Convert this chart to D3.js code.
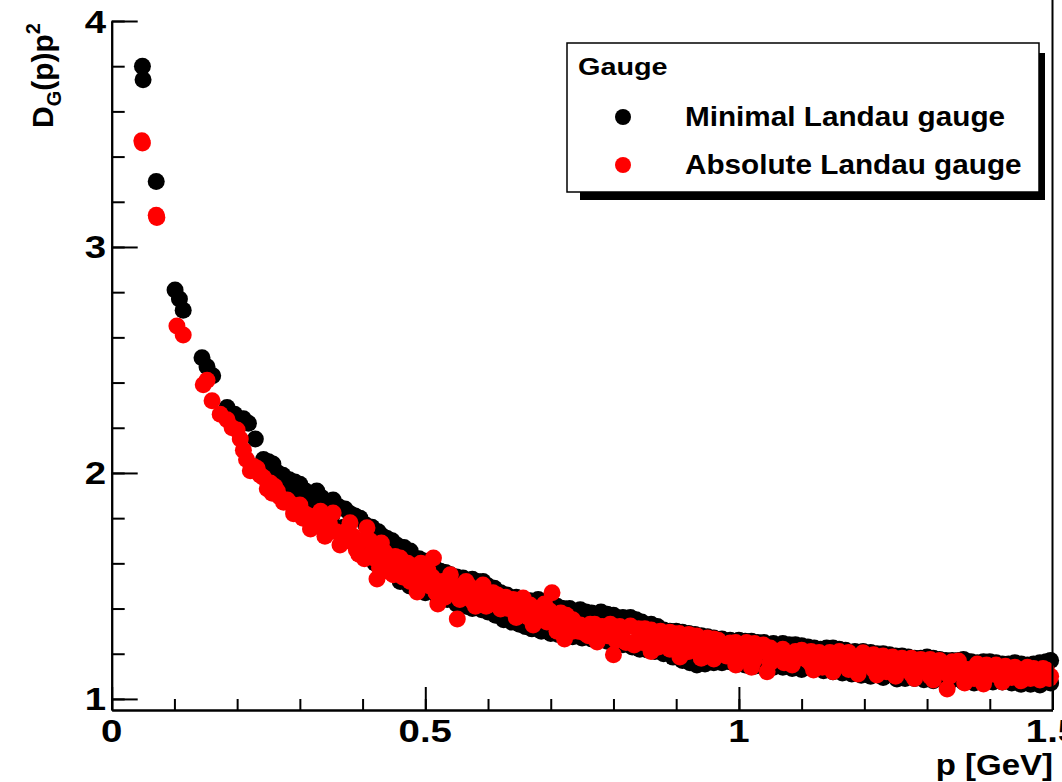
<!DOCTYPE html>
<html>
<head>
<meta charset="utf-8">
<script src="https://cdn.jsdelivr.net/npm/d3@7"></script>
<style>
  body { margin: 0; background: #fff; }
  text { font-family: "Liberation Sans", Arial, sans-serif; font-weight: bold; fill: #000; }
</style>
</head>
<body>
<script>
// gluon dressing function D(p)p^2 as [p in GeV, value]
var minimalLandau = [
  [0.049,3.80],[0.050,3.74],[0.071,3.29],
  [0.101,2.81],[0.108,2.77],[0.114,2.72],
  [0.144,2.51],[0.152,2.47],[0.161,2.43],
  [0.184,2.29],[0.196,2.26],[0.210,2.24],[0.218,2.22],[0.229,2.15],
  [0.242,2.06],[0.250,2.05],[0.257,2.04],[0.265,2.00],[0.273,1.99],[0.283,1.97],[0.292,1.96],[0.300,1.95],
  [0.309,1.92],[0.317,1.90],[0.327,1.92],[0.335,1.89],[0.345,1.87],[0.353,1.88],[0.362,1.85],[0.372,1.84],
  [0.380,1.82],[0.388,1.81],[0.396,1.80],[0.405,1.77],[0.415,1.76],[0.425,1.74],[0.432,1.72],[0.439,1.71],
  [0.447,1.70],[0.455,1.68],[0.466,1.67],[0.476,1.655],[0.490,1.62],[0.498,1.61],[0.505,1.60],[0.515,1.58],
  [0.524,1.565],[0.532,1.56],[0.540,1.55],[0.550,1.54],[0.560,1.535],[0.575,1.53],[0.583,1.52],[0.592,1.52],
  [0.600,1.50],[0.610,1.49],[0.620,1.47],[0.630,1.46],[0.645,1.45],[0.655,1.44],[0.667,1.435],[0.680,1.44],
  [0.694,1.435],[0.702,1.42],[0.710,1.41],[0.720,1.40],[0.730,1.40],[0.747,1.395],[0.756,1.385],[0.765,1.38],
  [0.780,1.385],[0.790,1.375],[0.800,1.37],[0.815,1.36],[0.827,1.36],[0.836,1.35],[0.845,1.34],[0.860,1.33],
  [0.870,1.32],[0.880,1.305],[0.890,1.30],[0.900,1.30],[0.910,1.295],[0.920,1.29],[0.930,1.285],[0.940,1.28],
  [0.950,1.275],[0.960,1.27],[0.973,1.265],[0.986,1.26],[1.000,1.26],[1.010,1.255],[1.020,1.255],[1.030,1.25],
  [1.040,1.25],[1.055,1.245],[1.070,1.245],[1.080,1.24],[1.090,1.24],[1.100,1.235],[1.110,1.23],[1.120,1.225],
  [1.130,1.22],[1.140,1.225],[1.150,1.225],[1.160,1.22],[1.170,1.215],[1.185,1.21],[1.198,1.21],[1.210,1.205],
  [1.220,1.20],[1.230,1.20],[1.240,1.195],[1.250,1.19],[1.260,1.19],[1.270,1.185],[1.280,1.18],[1.290,1.18],
  [1.300,1.185],[1.310,1.18],[1.320,1.175],[1.330,1.17],[1.340,1.17],[1.350,1.17],[1.358,1.175],[1.370,1.165],
  [1.380,1.16],[1.390,1.165],[1.400,1.165],[1.410,1.16],[1.420,1.155],[1.430,1.155],[1.440,1.16],[1.450,1.155],
  [1.460,1.15],[1.470,1.155],[1.480,1.16],[1.490,1.165],[1.497,1.17],
  [0.250,2.00],[0.270,1.95],[0.290,1.91],[0.310,1.87],[0.330,1.84],[0.350,1.80],[0.370,1.76],[0.385,1.71],
  [0.400,1.69],[0.420,1.60],[0.440,1.57],[0.460,1.52],[0.475,1.50],[0.487,1.487],[0.500,1.47],[0.520,1.45],
  [0.535,1.44],[0.550,1.42],[0.565,1.41],[0.575,1.40],[0.590,1.395],[0.600,1.385],[0.612,1.37],[0.625,1.35],
  [0.638,1.34],[0.650,1.33],[0.660,1.32],[0.670,1.31],[0.685,1.30],[0.700,1.29],[0.712,1.285],[0.720,1.28],
  [0.735,1.275],[0.750,1.27],[0.765,1.265],[0.779,1.265],[0.790,1.255],[0.800,1.25],[0.815,1.24],[0.830,1.23],
  [0.842,1.22],[0.854,1.217],[0.866,1.21],[0.880,1.20],[0.895,1.185],[0.910,1.17],[0.922,1.16],[0.933,1.15],
  [0.946,1.155],[0.960,1.16],[0.973,1.16],[0.986,1.164],[1.000,1.155],[1.010,1.15],[1.025,1.145],[1.040,1.14],
  [1.055,1.14],[1.070,1.14],[1.085,1.135],[1.100,1.13],[1.119,1.133],[1.135,1.125],[1.150,1.12],[1.165,1.115],
  [1.180,1.11],[1.195,1.105],[1.210,1.10],[1.230,1.095],[1.252,1.088],[1.265,1.09],[1.280,1.09],[1.295,1.085],
  [1.310,1.08],[1.325,1.085],[1.340,1.085],[1.358,1.075],[1.375,1.07],[1.390,1.07],[1.405,1.075],[1.420,1.075],
  [1.435,1.07],[1.450,1.065],[1.465,1.065],[1.480,1.062],[1.497,1.07]
];

var absoluteLandau = [
  [0.048,3.47],[0.049,3.46],[0.071,3.14],[0.072,3.13],
  [0.104,2.65],[0.114,2.61],
  [0.146,2.39],[0.152,2.41],[0.160,2.32],[0.173,2.26],[0.184,2.235],[0.192,2.20],[0.200,2.19],[0.205,2.15],
  [0.210,2.10],[0.215,2.06],[0.221,2.01],[0.226,2.03],[0.232,2.02],[0.237,1.99],[0.242,1.98],[0.248,1.93],
  [0.253,1.956],[0.256,1.91],[0.260,1.94],[0.264,1.92],[0.268,1.894],[0.274,1.87],[0.280,1.88],[0.287,1.86],
  [0.290,1.82],[0.295,1.85],[0.300,1.858],[0.308,1.82],[0.317,1.752],[0.325,1.80],[0.333,1.83],[0.340,1.72],
  [0.347,1.78],[0.353,1.823],[0.364,1.681],[0.372,1.74],[0.380,1.78],[0.390,1.66],[0.398,1.70],[0.407,1.757],
  [0.415,1.65],[0.423,1.531],[0.430,1.69],[0.438,1.60],[0.445,1.56],[0.452,1.63],[0.460,1.624],[0.468,1.58],
  [0.476,1.52],[0.487,1.473],[0.493,1.60],[0.500,1.55],[0.507,1.50],[0.513,1.624],[0.520,1.42],[0.527,1.52],
  [0.535,1.47],[0.540,1.549],[0.551,1.354],[0.558,1.50],[0.565,1.52],[0.572,1.45],[0.580,1.41],[0.586,1.48],
  [0.592,1.504],[0.600,1.44],[0.608,1.47],[0.620,1.398],[0.628,1.45],[0.636,1.43],[0.645,1.36],[0.656,1.447],
  [0.662,1.38],[0.667,1.416],[0.672,1.327],[0.680,1.40],[0.690,1.36],[0.702,1.47],[0.710,1.30],[0.716,1.38],
  [0.722,1.265],[0.730,1.34],[0.740,1.33],[0.747,1.327],[0.755,1.29],[0.763,1.33],[0.774,1.252],[0.782,1.32],
  [0.790,1.28],[0.800,1.195],[0.808,1.30],[0.815,1.27],[0.827,1.323],[0.833,1.239],[0.842,1.28],[0.850,1.31],
  [0.860,1.21],[0.868,1.27],[0.875,1.30],[0.885,1.24],[0.895,1.29],[0.906,1.186],[0.915,1.25],[0.925,1.28],
  [0.933,1.279],[0.940,1.18],[0.948,1.23],[0.960,1.177],[0.967,1.26],[0.975,1.22],[0.986,1.248],[0.995,1.15],
  [1.003,1.21],[1.012,1.25],[1.020,1.14],[1.028,1.20],[1.039,1.239],[1.045,1.12],[1.055,1.185],[1.066,1.212],
  [1.072,1.16],[1.080,1.18],[1.090,1.21],[1.100,1.215],[1.110,1.17],[1.119,1.128],[1.128,1.205],[1.138,1.16],
  [1.150,1.12],[1.160,1.21],[1.170,1.15],[1.180,1.18],[1.190,1.11],[1.198,1.204],[1.210,1.155],[1.220,1.106],
  [1.230,1.19],[1.240,1.14],[1.250,1.10],[1.260,1.18],[1.270,1.13],[1.280,1.09],[1.290,1.175],[1.300,1.12],
  [1.310,1.084],[1.320,1.17],[1.332,1.044],[1.340,1.13],[1.350,1.168],[1.360,1.07],[1.370,1.12],[1.380,1.155],
  [1.390,1.066],[1.400,1.11],[1.410,1.15],[1.420,1.075],[1.430,1.12],[1.440,1.14],[1.450,1.08],[1.460,1.105],
  [1.470,1.135],[1.480,1.084],[1.490,1.128],[1.497,1.10],
  [0.305,1.80],[0.315,1.81],[0.322,1.77],[0.336,1.76],[0.345,1.75],[0.358,1.74],[0.368,1.71],[0.377,1.70],
  [0.385,1.72],[0.394,1.64],[0.403,1.62],[0.412,1.70],[0.420,1.62],[0.427,1.58],[0.435,1.65],[0.442,1.62],
  [0.449,1.55],[0.456,1.58],[0.464,1.54],[0.472,1.60],[0.480,1.56],[0.490,1.52],[0.497,1.51],[0.504,1.57],
  [0.511,1.54],[0.517,1.47],[0.524,1.49],[0.531,1.45],[0.538,1.51],[0.545,1.48],[0.555,1.44],[0.562,1.46],
  [0.569,1.48],[0.576,1.43],[0.583,1.44],[0.590,1.45],[0.597,1.41],[0.604,1.42],[0.612,1.43],[0.617,1.44],
  [0.624,1.42],[0.632,1.40],[0.640,1.41],[0.650,1.40],[0.658,1.42],[0.665,1.36],[0.676,1.37],[0.684,1.35],
  [0.694,1.34],[0.698,1.39],[0.706,1.35],[0.713,1.33],[0.727,1.31],[0.735,1.30],[0.744,1.30],[0.752,1.31],
  [0.760,1.28],[0.768,1.30],[0.777,1.29],[0.786,1.30],[0.795,1.31],[0.804,1.26],[0.812,1.29],[0.820,1.25],
  [0.838,1.26],[0.846,1.25],[0.855,1.27],[0.864,1.25],[0.872,1.23],[0.880,1.26],[0.890,1.22],[0.900,1.26],
  [0.910,1.22],[0.920,1.21],[0.930,1.24],[0.937,1.22],[0.944,1.26],[0.954,1.21],[0.963,1.20],[0.971,1.24],
  [0.980,1.19],[0.990,1.21],[0.999,1.23],[1.008,1.18],[1.016,1.20],[1.024,1.17],[1.033,1.21],[1.050,1.16],
  [1.060,1.19],[1.076,1.20],[1.085,1.15],[1.095,1.18],[1.105,1.19],[1.115,1.155],[1.124,1.18],[1.133,1.14],
  [1.144,1.19],[1.155,1.16],[1.165,1.18],[1.175,1.13],[1.185,1.16],[1.194,1.15],[1.204,1.18],[1.215,1.13],
  [1.225,1.16],[1.235,1.12],[1.245,1.165],[1.255,1.14],[1.265,1.15],[1.275,1.11],[1.285,1.14],[1.295,1.15],
  [1.305,1.10],[1.315,1.14],[1.326,1.12],[1.336,1.10],[1.345,1.15],[1.355,1.11],[1.365,1.13],[1.375,1.09],
  [1.385,1.13],[1.395,1.10],[1.405,1.125],[1.415,1.10],[1.425,1.13],[1.435,1.095],[1.445,1.11],[1.455,1.125],
  [1.465,1.09],[1.475,1.11],[1.485,1.12],[1.495,1.09],
  [0.570,1.50],[0.615,1.46],[0.640,1.44],[0.690,1.42],[0.725,1.37],[0.735,1.35],[0.770,1.33],[0.795,1.33],
  [0.810,1.32],[0.840,1.31],[0.860,1.305],[0.890,1.295],[0.905,1.29],[0.920,1.285],[0.950,1.27],[0.960,1.265],
  [0.995,1.25],[1.025,1.245],[1.050,1.225],[1.070,1.22],[1.115,1.21],[1.145,1.205],[1.175,1.205],[1.215,1.195],
  [1.245,1.185],[1.275,1.18],[1.305,1.175],[1.340,1.165],[1.395,1.15],[1.425,1.145],[1.460,1.14],[1.485,1.135]
];

var xTickLabels = ["0", "0.5", "1", "1.5"];
var xMajorTicks = [0, 0.5, 1, 1.5];
var yMajorTicks = [1, 2, 3, 4];
var legendTitle = "Gauge";
var seriesNames = ["Minimal Landau gauge", "Absolute Landau gauge"];
var seriesColors = ["#000000", "#ff0000"];

var w = 1062, h = 782;
var frame = { left: 111.7, right: 1052.5, top: 21, bottom: 710 };

var x = d3.scaleLinear().domain([0, 1.5]).range([frame.left, frame.right]);
var y = d3.scaleLinear().domain([0.951, 4]).range([frame.bottom, frame.top]);

var svg = d3.select("body").append("svg")
  .attr("width", w)
  .attr("height", h)
  .style("display", "block");

svg.append("rect").attr("width", w).attr("height", h).attr("fill", "#fff");

// markers
var series = [minimalLandau, absoluteLandau];
series.forEach(function(pts, i){
  svg.append("g").selectAll("circle")
    .data(pts)
    .enter().append("circle")
      .attr("cx", function(d){ return x(d[0]); })
      .attr("cy", function(d){ return y(d[1]); })
      .attr("r", 8.5)
      .attr("fill", seriesColors[i]);
});

// axes, ticks pointing inwards like ROOT
function styleAxis(g){
  g.selectAll("path, line").attr("stroke", "#000").attr("stroke-width", 2);
}

var xMinor = x.ticks(15);
var yMinor = d3.range(1, 4.01, 0.2);

svg.append("g")
  .attr("transform", "translate(0," + frame.bottom + ")")
  .call(d3.axisBottom(x).tickValues(xMinor).tickSize(-11).tickSizeOuter(0).tickFormat(""))
  .call(styleAxis);
svg.append("g")
  .attr("transform", "translate(0," + frame.bottom + ")")
  .call(d3.axisBottom(x).tickValues(xMajorTicks).tickSize(-23).tickSizeOuter(0).tickFormat(""))
  .call(styleAxis);

svg.append("g")
  .attr("transform", "translate(" + frame.left + ",0)")
  .call(d3.axisLeft(y).tickValues(yMinor).tickSize(-13).tickSizeOuter(0).tickFormat(""))
  .call(styleAxis);
svg.append("g")
  .attr("transform", "translate(" + frame.left + ",0)")
  .call(d3.axisLeft(y).tickValues(yMajorTicks).tickSize(-26).tickSizeOuter(0).tickFormat(""))
  .call(styleAxis);

// right frame edge
svg.append("line")
  .attr("x1", frame.right).attr("x2", frame.right)
  .attr("y1", 0).attr("y2", frame.bottom)
  .attr("stroke", "#000").attr("stroke-width", 2);

// tick labels
svg.selectAll(".xlab")
  .data(xMajorTicks)
  .enter().append("text")
    .attr("class", "xlab")
    .attr("text-anchor", "middle")
    .attr("font-size", 32)
    .attr("transform", function(d){ return "translate(" + x(d) + ",742) scale(1.2,1)"; })
    .text(function(d, i){ return xTickLabels[i]; });

svg.selectAll(".ylab")
  .data(yMajorTicks)
  .enter().append("text")
    .attr("class", "ylab")
    .attr("text-anchor", "end")
    .attr("font-size", 32)
    .attr("transform", function(d){ return "translate(106," + (y(d) + 11.5) + ") scale(1.2,1)"; })
    .text(function(d){ return d; });

// axis titles
svg.append("text")
  .attr("text-anchor", "end")
  .attr("font-size", 30)
  .attr("transform", "translate(1053,775) scale(1.1,1)")
  .text("p [GeV]");

var yt = svg.append("text")
  .attr("transform", "translate(53,128) rotate(-90)")
  .attr("font-size", 30);
yt.append("tspan").text("D");
yt.append("tspan").attr("font-size", 20).attr("dy", 8).text("G");
yt.append("tspan").attr("dy", -8).text("(p)p");
yt.append("tspan").attr("font-size", 20).attr("dy", -13).text("2");

// legend with ROOT shadow
var leg = svg.append("g");
leg.append("rect")
  .attr("x", 580).attr("y", 53).attr("width", 465).attr("height", 147)
  .attr("fill", "#000");
leg.append("rect")
  .attr("x", 567).attr("y", 43).attr("width", 472).attr("height", 149)
  .attr("fill", "#fff").attr("stroke", "#000").attr("stroke-width", 1.5);
leg.append("text")
  .attr("font-size", 24)
  .attr("transform", "translate(578,75) scale(1.2,1)")
  .text(legendTitle);

seriesNames.forEach(function(name, i){
  var cy = 117 + i * 48;
  leg.append("circle")
    .attr("cx", 623).attr("cy", cy).attr("r", 8)
    .attr("fill", seriesColors[i]);
  leg.append("text")
    .attr("font-size", 27)
    .attr("transform", "translate(685," + (cy + 9) + ") scale(1.1,1)")
    .text(name);
});
</script>
</body>
</html>
